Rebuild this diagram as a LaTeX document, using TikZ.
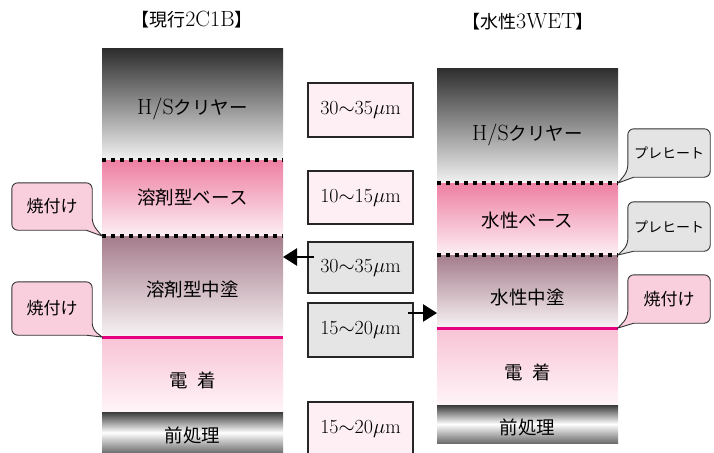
\documentclass[tikz,border=0pt]{standalone}
\usepackage{fontspec}
\newfontfamily\jp{Noto Sans CJK JP}
\usetikzlibrary{arrows.meta,calc}
\definecolor{hsTop}{HTML}{2E2E2E}
\definecolor{hsBot}{HTML}{F2F2F2}
\definecolor{baseTop}{HTML}{EE7FA2}
\definecolor{baseBot}{HTML}{FDEFF4}
\definecolor{midTop}{HTML}{A47C8B}
\definecolor{midBot}{HTML}{F8F3F5}
\definecolor{edTop}{HTML}{F8C3D5}
\definecolor{edBot}{HTML}{FFF5F8}
\definecolor{preTop}{HTML}{3A3A3A}
\definecolor{preBot}{HTML}{6C6C6C}
\definecolor{magLine}{HTML}{E4007F}
\definecolor{pinkBox}{HTML}{FDEFF3}
\definecolor{grayBox}{HTML}{E5E5E5}
\definecolor{callPink}{HTML}{F9CFDD}
\definecolor{callGray}{HTML}{E4E4E4}
% callout pointing from its lower right corner
\newcommand\callboxR[3]{%
  \draw[callline, fill=#3, rounded corners=6pt] (#1.west) -- (#1.north west) -- (#1.north east) -- ([yshift=6pt]#1.south east) [sharp corners] -- (#2) -- ([xshift=-6pt]#1.south east) [rounded corners=6pt] -- (#1.south west) -- cycle;}
% callout pointing from its lower left corner
\newcommand\callboxL[3]{%
  \draw[callline, fill=#3, rounded corners=6pt] (#1.east) -- (#1.north east) -- (#1.north west) -- ([yshift=6pt]#1.south west) [sharp corners] -- (#2) -- ([xshift=6pt]#1.south west) [rounded corners=6pt] -- (#1.south east) -- cycle;}
\newcommand\lat[1]{{\fontsize{22}{24}\selectfont #1}}
\begin{document}
\begin{tikzpicture}[x=1pt,y=-1pt,
  layer/.style={minimum width=181pt, inner sep=0pt, outer sep=0pt, draw=none},
  ltext/.style={font=\fontsize{18.5}{22}\selectfont, inner sep=0pt},
  ttext/.style={font=\fontsize{18}{22}\selectfont, inner sep=0pt},
  dotline/.style={line width=4pt, dash pattern=on 4pt off 5pt, black},
  magline/.style={line width=3pt, magLine},
  thickbox/.style={draw=black!85, line width=1.3pt, minimum width=105pt, minimum height=53pt, inner sep=0pt, font=\fontsize{20}{22}\selectfont},
  cbox/.style={minimum width=80pt, inner sep=0pt, draw=none},
  callline/.style={draw=black!80, line width=0.9pt},
  ctext/.style={font=\fontsize{17}{20}\selectfont, inner sep=0pt},
  cstext/.style={font=\fontsize{14}{17}\selectfont, inner sep=0pt},
  bigarrow/.style={line width=2.5pt, -{Triangle[length=14pt, width=17pt]}}
]
\useasboundingbox (0,0) rectangle (714,452);
\clip (0,0) rectangle (714,452);

% titles
\node[ttext] (t1) at (192,20) {{\jp 【現行}\lat{2C1B}{\jp 】}};
\node[ttext] (t2) at (528,22) {{\jp 【水性}\lat{3WET}{\jp 】}};

% left stack
\node[layer, minimum height=111pt, top color=hsTop, bottom color=hsBot] (lhs) at (192.5,104.5) {};
\node[layer, minimum height=76pt, top color=baseTop, bottom color=baseBot] (lbase) at (192.5,198) {};
\node[layer, minimum height=101pt, top color=midTop, bottom color=midBot] (lmid) at (192.5,286.5) {};
\node[layer, minimum height=75pt, top color=edTop, bottom color=edBot] (led) at (192.5,374.5) {};
\node[layer, minimum height=41pt, top color=preTop, bottom color=preBot, middle color=white] (lpre) at (192.5,432.5) {};
\draw[dotline] (lbase.north west) -- (lbase.north east);
\draw[dotline] (lmid.north west) -- (lmid.north east);
\draw[magline] (led.north west) -- (led.north east);
\node[ltext] (lhsT) at (192.5,109) {\lat{H/S}{\jp クリヤー}};
\node[ltext] (lbaseT) at (192.5,198) {\jp 溶剤型ベース};
\node[ltext] (lmidT) at (192.5,290) {\jp 溶剤型中塗};
\node[ltext] (ledT) at (192.5,380) {\jp 電\hspace{0.5em}着};
\node[ltext] (lpreT) at (192.5,435) {\jp 前処理};

% right stack
\node[layer, minimum height=115pt, top color=hsTop, bottom color=hsBot] (rhs) at (527.5,125.5) {};
\node[layer, minimum height=72pt, top color=baseTop, bottom color=baseBot] (rbase) at (527.5,219) {};
\node[layer, minimum height=73pt, top color=midTop, bottom color=midBot] (rmid) at (527.5,291.5) {};
\node[layer, minimum height=77pt, top color=edTop, bottom color=edBot] (red) at (527.5,366.5) {};
\node[layer, minimum height=38pt, top color=preTop, bottom color=preBot, middle color=white] (rpre) at (527.5,424) {};
\draw[dotline] (rbase.north west) -- (rbase.north east);
\draw[dotline] (rmid.north west) -- (rmid.north east);
\draw[magline] (red.north west) -- (red.north east);
\node[ltext] (rhsT) at (527.5,135) {\lat{H/S}{\jp クリヤー}};
\node[ltext] (rbaseT) at (527.5,220) {\jp 水性ベース};
\node[ltext] (rmidT) at (527.5,297) {\jp 水性中塗};
\node[ltext] (redT) at (527.5,372) {\jp 電\hspace{0.5em}着};
\node[ltext] (rpreT) at (527.5,427) {\jp 前処理};

% middle boxes
\node[thickbox, fill=pinkBox, minimum height=54pt] (b1) at (360.5,110) {30${\sim}$35$\mu$m};
\node[thickbox, fill=pinkBox] (b2) at (360.5,197.5) {10${\sim}$15$\mu$m};
\node[thickbox, fill=grayBox, minimum height=51pt] (b3) at (360.5,267.5) {30${\sim}$35$\mu$m};
\node[thickbox, fill=grayBox, minimum height=54pt] (b4) at (360.5,330) {15${\sim}$20$\mu$m};
\node[thickbox, fill=pinkBox, minimum height=54pt] (b5) at (360.5,429) {15${\sim}$20$\mu$m};

% arrows
\coordinate (a1) at (314,257);
\coordinate (a2) at (408,313);
\draw[bigarrow] (a1) -- (a1 -| lmid.east);
\draw[bigarrow] (a2) -- (a2 -| rmid.west);

% callouts left
\node[cbox, minimum height=47pt] (cl1) at (52,206.5) {};
\callboxR{cl1}{lmid.north west}{callPink}
\node[ctext] (cl1t) at (cl1) {\jp 焼付け};
\node[cbox, minimum height=53pt] (cl2) at (52,308.5) {};
\callboxR{cl2}{led.north west}{callPink}
\node[ctext] (cl2t) at (cl2) {\jp 焼付け};

% callouts right
\node[cbox, minimum width=82pt, minimum height=48pt] (cr1) at (669,153) {};
\callboxL{cr1}{rbase.north east}{callGray}
\node[cstext] (cr1t) at (cr1) {\jp プレヒート};
\node[cbox, minimum width=82pt, minimum height=49pt] (cr2) at (669,226.5) {};
\callboxL{cr2}{rmid.north east}{callGray}
\node[cstext] (cr2t) at (cr2) {\jp プレヒート};
\node[cbox, minimum width=82pt, minimum height=48pt] (cr3) at (669,299) {};
\callboxL{cr3}{red.north east}{callPink}
\node[ctext] (cr3t) at (cr3) {\jp 焼付け};
\end{tikzpicture}
\end{document}
